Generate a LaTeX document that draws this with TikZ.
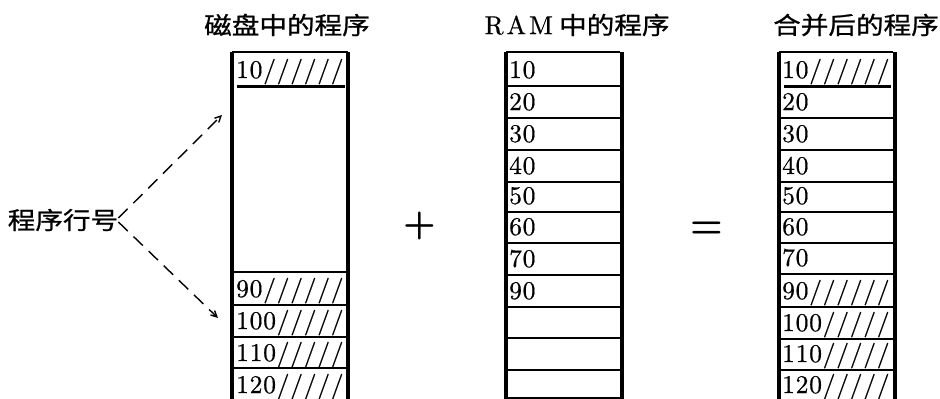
\documentclass[tikz,border=0pt]{standalone}
\usepackage{fontspec}
\setmainfont{lmroman10-regular.otf}[FakeBold=0.6]
\newfontfamily\numfont[LetterSpace=3,FakeBold=0.6]{lmroman10-regular.otf}
\newfontfamily\symfont{lmromandemi10-regular.otf}
\newfontfamily\cjk[FakeStretch=1.15,FakeBold=0.9]{Noto Sans CJK SC}
\usetikzlibrary{arrows.meta}
\begin{document}
\begin{tikzpicture}[x=1pt,y=-1pt,
  num/.style={anchor=base west,inner sep=0pt,font=\numfont\fontsize{25.5}{30}\selectfont},
  title/.style={inner sep=0pt,font=\cjk\fontsize{24}{28}\selectfont},
  border/.style={line width=3.6pt},
  rowline/.style={line width=1.4pt},
  thickline/.style={line width=3pt},
  topline/.style={line width=2.2pt},
  dasharrow/.style={line width=1.4pt,dash pattern=on 13pt off 8pt,-{Straight Barb[length=6pt,width=6pt]}},
  sym/.style={inner sep=0pt,font=\symfont\fontsize{42}{46}\selectfont}]
\useasboundingbox (0,0) rectangle (940,399);

% titles
\node[title] (t1) at (287,25) {磁盘中的程序};
\node[title] (t2) at (577,25) {{\rmfamily\fontsize{26}{28}\selectfont R\kern3pt A\kern3pt M}\ 中的程序};
\node[title] (t3) at (856,25) {合并后的程序};

% left column (disk)
\draw[border] (232,52) -- (232,402);
\draw[border] (348,52) -- (348,402);
\draw[topline] (232,52) -- (348,52);
\draw[thickline] (237,86) -- (345,86);
\foreach \yy in {272,305,337,368} \draw[rowline] (232,\yy) -- (348,\yy);
\node[num] (a10) at (236,78) {10//////};
\node[num] (a90) at (236,297) {90//////};
\node[num] (a100) at (236,329) {100/////};
\node[num] (a110) at (236,361) {110/////};
\node[num] (a120) at (236,393) {120/////};

% middle column (RAM)
\draw[border] (506,52) -- (506,402);
\draw[border] (622,52) -- (622,402);
\draw[topline] (506,52) -- (620,52);
\foreach \yy in {86,118,150,182,212,243,275,307,338,370,398} \draw[rowline] (506,\yy) -- (622,\yy);
\node[num] (b10) at (509,78) {10};
\node[num] (b20) at (509,110) {20};
\node[num] (b30) at (509,142) {30};
\node[num] (b40) at (509,174) {40};
\node[num] (b50) at (509,204) {50};
\node[num] (b60) at (509,235) {60};
\node[num] (b70) at (509,267) {70};
\node[num] (b90) at (509,299) {90};

% right column (merged)
\draw[border] (779,52) -- (779,402);
\draw[border] (895,52) -- (895,402);
\draw[topline] (779,52) -- (893,52);
\draw[thickline] (784,86) -- (891,86);
\foreach \yy in {118,150,182,212,243,274,307,339,370} \draw[rowline] (779,\yy) -- (895,\yy);
\node[num] (c10) at (782,78) {10//////};
\node[num] (c20) at (782,110) {20};
\node[num] (c30) at (782,142) {30};
\node[num] (c40) at (782,174) {40};
\node[num] (c50) at (782,204) {50};
\node[num] (c60) at (782,235) {60};
\node[num] (c70) at (782,266) {70};
\node[num] (c90) at (782,299) {90//////};
\node[num] (c100) at (782,331) {100/////};
\node[num] (c110) at (782,362) {110/////};
\node[num] (c120) at (782,393) {120/////};

% operators
\node[sym] (plus) at (420,226) {+};
\node[sym] (eq) at (707,230) {=};

% label and arrows
\node[title] (lab) at (63,220) {程序行号};
\coordinate (up) at (222,115);
\coordinate (dn) at (218,318);
\draw[dasharrow] ([yshift=2pt]lab.east) -- (up);
\draw[dasharrow] ([yshift=-2pt]lab.east) -- (dn);
\end{tikzpicture}
\end{document}
